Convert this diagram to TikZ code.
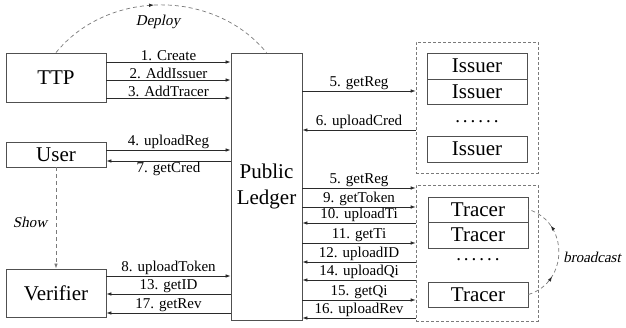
\documentclass[tikz,border=0pt]{standalone}
\usepackage{fontspec}
\setmainfont{Liberation Serif}
\newfontfamily\slantfont{Liberation Serif}[FakeSlant=0.21]
\usetikzlibrary{arrows.meta,decorations.markings}
\definecolor{boxgray}{HTML}{505050}
\definecolor{linegray}{HTML}{2A2A2A}
\definecolor{dashgray}{HTML}{7A7A7A}
\newcommand{\sixdots}{.\kern3pt.\kern3pt.\kern3pt.\kern3pt.\kern3pt.}
\begin{document}
\begin{tikzpicture}[x=1pt,y=-1pt,
  box/.style={draw=boxgray, line width=0.9pt, minimum width=100pt, inner sep=0pt,
    font=\fontsize{21}{24}\selectfont},
  groupbox/.style={draw=dashgray, line width=0.7pt, dash pattern=on 3pt off 2pt,
    minimum width=122pt, inner sep=0pt},
  dotsnode/.style={font=\fontsize{19}{20}\selectfont, inner sep=0pt,
    text height=3pt, text depth=0pt},
  tip/.tip={Latex[length=5pt,width=3.6pt]},
  arr/.style={-tip, line width=0.7pt, draw=linegray},
  lbl/.style={font=\fontsize{15}{17}\selectfont, inner sep=1.2pt},
  note/.style={font=\slantfont\fontsize{15}{17}\selectfont, inner sep=0pt},
  dashline/.style={draw=dashgray, line width=0.7pt, dash pattern=on 4pt off 3pt},
]
\useasboundingbox (0,0) rectangle (626,328);

% actors
\node[box, minimum height=49pt] (ttp) at (56,77.5) {TTP};
\node[box, minimum height=25pt] (user) at (56,154.5) {User};
\node[box, minimum height=48pt] (verifier) at (56,293) {Verifier};
\node[box, minimum width=71pt, minimum height=267pt, align=center,
  font=\fontsize{21}{26}\selectfont] (ledger) at (266.5,186.5) {Public\\Ledger};

% issuers
\node[groupbox, minimum height=131pt] (igroup) at (477,107.5) {};
\node[box, minimum height=26pt] (iss1) at (477,66) {Issuer};
\node[box, minimum height=25pt] (iss2) at (477,91.5) {Issuer};
\node[dotsnode] (idots) at (477,121) {\sixdots};
\node[box, minimum height=26pt] (iss3) at (477,149) {Issuer};

% tracers
\node[groupbox, minimum height=136pt] (tgroup) at (477,253) {};
\node[box, minimum height=25pt] (tr1) at (478,209.5) {Tracer};
\node[box, minimum height=26pt] (tr2) at (478,235) {Tracer};
\node[dotsnode] (tdots) at (478,259) {\sixdots};
\node[box, minimum height=25pt] (tr3) at (478,294.5) {Tracer};

% deploy arc
\draw[dashline, decoration={markings, mark=at position 0.47 with {\arrow[linegray]{tip}}},
  postaction={decorate}]
  (ttp.north) .. controls (108,-11) and (214,-11) .. (ledger.north);
\node[note] (deploy) at (158,22) {Deploy};

% show
\draw[dashline, -tip] (user.south) -- (verifier.north);
\node[note] (show) at (30,222) {Show};

% broadcast
\draw[dashline, decoration={markings,
    mark=at position 0.27 with {\arrow[linegray]{tip}},
    mark=at position 0.75 with {\arrow[linegray]{tip}}},
  postaction={decorate}]
  (tr3.east) .. controls (569,282) and (569,222) .. (tr1.east);
\node[note] (bcast) at (592,257) {broadcast};

% TTP, User, Verifier <-> ledger
\draw[arr] (ttp.east |- 0,62) -- node[lbl,above]{1. Create} (ledger.west |- 0,62);
\draw[arr] (ttp.east |- 0,80) -- node[lbl,above]{2. AddIssuer} (ledger.west |- 0,80);
\draw[arr] (ttp.east |- 0,98) -- node[lbl,above]{3. AddTracer} (ledger.west |- 0,98);
\draw[arr] (user.east |- 0,150) -- node[lbl,above]{4. uploadReg} (ledger.west |- 0,150);
\draw[arr] (ledger.west |- 0,161) -- node[lbl,below]{7. getCred} (user.east |- 0,161);
\draw[arr] (verifier.east |- 0,276) -- node[lbl,above]{8. uploadToken} (ledger.west |- 0,276);
\draw[arr] (ledger.west |- 0,294) -- node[lbl,above]{13. getID} (verifier.east |- 0,294);
\draw[arr] (ledger.west |- 0,313) -- node[lbl,above]{17. getRev} (verifier.east |- 0,313);

% ledger <-> issuers
\draw[arr] (ledger.east |- 0,91) -- node[lbl,above]{5. getReg} (igroup.west |- 0,91);
\draw[arr] (igroup.west |- 0,130) -- node[lbl,above]{6. uploadCred} (ledger.east |- 0,130);

% ledger <-> tracers
\draw[arr] (ledger.east |- 0,188) -- node[lbl,above]{5. getReg} (tgroup.west |- 0,188);
\draw[arr] (ledger.east |- 0,207) -- node[lbl,above]{9. getToken} (tgroup.west |- 0,207);
\draw[arr] (tgroup.west |- 0,223) -- node[lbl,above]{10. uploadTi} (ledger.east |- 0,223);
\draw[arr] (ledger.east |- 0,243) -- node[lbl,above]{11. getTi} (tgroup.west |- 0,243);
\draw[arr] (tgroup.west |- 0,262) -- node[lbl,above]{12. uploadID} (ledger.east |- 0,262);
\draw[arr] (tgroup.west |- 0,280) -- node[lbl,above]{14. uploadQi} (ledger.east |- 0,280);
\draw[arr] (ledger.east |- 0,300) -- node[lbl,above]{15. getQi} (tgroup.west |- 0,300);
\draw[arr] (tgroup.west |- 0,318) -- node[lbl,above]{16. uploadRev} (ledger.east |- 0,318);
\end{tikzpicture}
\end{document}
